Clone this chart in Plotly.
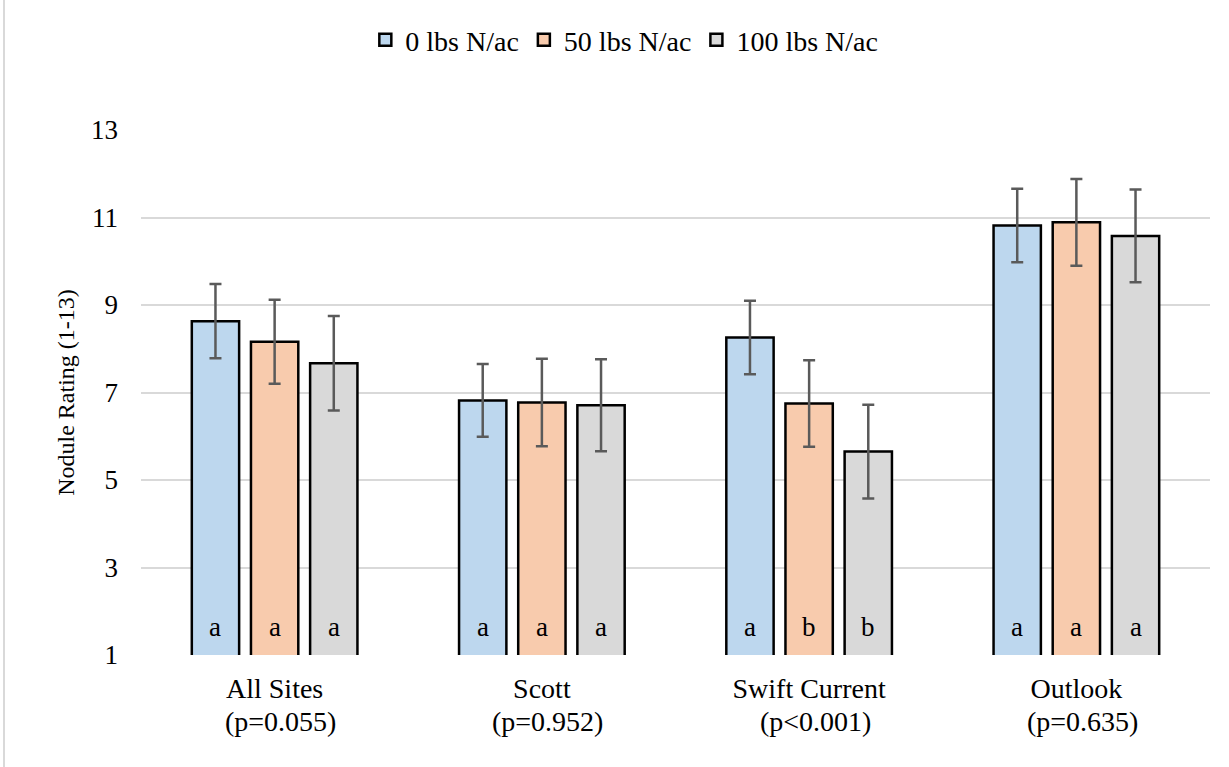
import plotly.graph_objects as go

# Nodule rating by site and nitrogen rate
sites = ["All Sites", "Scott", "Swift Current", "Outlook"]
p_values = ["(p=0.055)", "(p=0.952)", "(p<0.001)", "(p=0.635)"]
series_names = ["0 lbs N/ac", "50 lbs N/ac", "100 lbs N/ac"]

rating_0 = [8.63, 6.82, 8.26, 10.82]
rating_50 = [8.16, 6.77, 6.75, 10.89]
rating_100 = [7.67, 6.71, 5.65, 10.58]

err_0 = [0.85, 0.83, 0.84, 0.84]
err_50 = [0.96, 1.00, 0.99, 0.99]
err_100 = [1.08, 1.05, 1.07, 1.06]

letters_0 = ["a", "a", "a", "a"]
letters_50 = ["a", "a", "b", "a"]
letters_100 = ["a", "a", "b", "a"]

y_ticks = [1, 3, 5, 7, 9, 11, 13]

FONT = "Liberation Serif"
fills = ["#BDD7EE", "#F8CBAD", "#D9D9D9"]
BARGAP = 0.336
BARGROUPGAP = 0.2

values = [rating_0, rating_50, rating_100]
errors = [err_0, err_50, err_100]
letters = [letters_0, letters_50, letters_100]
x_pos = list(range(len(sites)))

fig = go.Figure()
for name, vals, errs, color in zip(series_names, values, errors, fills):
    fig.add_trace(go.Bar(
        name=name,
        x=x_pos,
        y=vals,
        marker=dict(color=color, line=dict(color="#000000", width=2.5)),
        error_y=dict(type="data", array=errs, visible=True,
                     color="#5a5a5a", thickness=2.5, width=6),
    ))

# significance letters at the foot of each bar
n_series = len(series_names)
slot = (1 - BARGAP) / n_series
annotations = []
for k, lets in enumerate(letters):
    offset = (k - (n_series - 1) / 2) * slot
    for i, letter in enumerate(lets):
        annotations.append(dict(
            x=x_pos[i] + offset, y=y_ticks[0], xref="x", yref="y",
            text=letter, showarrow=False, yanchor="bottom", yshift=11,
            font=dict(family=FONT, size=27, color="#000000"),
        ))

# second line of the category labels
for i, p in enumerate(p_values):
    annotations.append(dict(
        x=x_pos[i], y=0, xref="x", yref="paper",
        text=p, showarrow=False, yanchor="top", yshift=-49, xshift=6,
        font=dict(family=FONT, size=28, color="#000000"),
    ))

fig.update_layout(
    template="none",
    width=1229, height=767,
    margin=dict(l=141, r=19, t=130, b=112),
    paper_bgcolor="#ffffff", plot_bgcolor="#ffffff",
    barmode="group", bargap=BARGAP, bargroupgap=BARGROUPGAP,
    font=dict(family=FONT, size=28, color="#000000"),
    showlegend=True,
    legend=dict(orientation="h", xref="container", x=0.508, xanchor="center",
                yref="container", y=1 - 40 / 767, yanchor="middle",
                font=dict(family=FONT, size=28, color="#000000"), itemwidth=30),
    annotations=annotations,
    shapes=[dict(type="line", xref="paper", yref="paper",
                 x0=-137 / 1069, x1=-137 / 1069, y0=-112 / 525, y1=1 + 130 / 525,
                 line=dict(color="#d9d9d9", width=2))],
)
fig.update_xaxes(
    tickvals=x_pos, ticktext=sites, range=[-0.5, len(sites) - 0.5],
    showgrid=False, zeroline=False, showline=False, ticks="",
    tickfont=dict(family=FONT, size=28, color="#000000"), ticklabelstandoff=14,
)
fig.update_yaxes(
    range=[y_ticks[0], y_ticks[-1]], tickvals=y_ticks,
    showgrid=True, gridcolor="#d9d9d9", gridwidth=2,
    zeroline=False, showline=False, ticks="",
    tickfont=dict(family=FONT, size=27, color="#000000"), ticklabelstandoff=22,
    title=dict(text="Nodule Rating (1-13)", font=dict(family=FONT, size=24, color="#000000"), standoff=9),
)

fig.write_html("out.html")
